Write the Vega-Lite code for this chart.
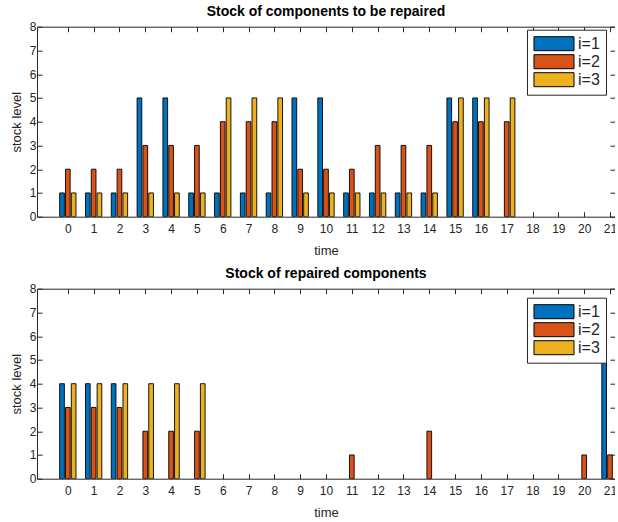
{
  "$schema": "https://vega.github.io/schema/vega-lite/v6.json",
  "padding": {"left": 9, "top": 3.7, "right": -3, "bottom": 0},
  "datasets": {
    "top": [
      {"t": 0, "i": "i=1", "v": 1}, {"t": 0, "i": "i=2", "v": 2}, {"t": 0, "i": "i=3", "v": 1},
      {"t": 1, "i": "i=1", "v": 1}, {"t": 1, "i": "i=2", "v": 2}, {"t": 1, "i": "i=3", "v": 1},
      {"t": 2, "i": "i=1", "v": 1}, {"t": 2, "i": "i=2", "v": 2}, {"t": 2, "i": "i=3", "v": 1},
      {"t": 3, "i": "i=1", "v": 5}, {"t": 3, "i": "i=2", "v": 3}, {"t": 3, "i": "i=3", "v": 1},
      {"t": 4, "i": "i=1", "v": 5}, {"t": 4, "i": "i=2", "v": 3}, {"t": 4, "i": "i=3", "v": 1},
      {"t": 5, "i": "i=1", "v": 1}, {"t": 5, "i": "i=2", "v": 3}, {"t": 5, "i": "i=3", "v": 1},
      {"t": 6, "i": "i=1", "v": 1}, {"t": 6, "i": "i=2", "v": 4}, {"t": 6, "i": "i=3", "v": 5},
      {"t": 7, "i": "i=1", "v": 1}, {"t": 7, "i": "i=2", "v": 4}, {"t": 7, "i": "i=3", "v": 5},
      {"t": 8, "i": "i=1", "v": 1}, {"t": 8, "i": "i=2", "v": 4}, {"t": 8, "i": "i=3", "v": 5},
      {"t": 9, "i": "i=1", "v": 5}, {"t": 9, "i": "i=2", "v": 2}, {"t": 9, "i": "i=3", "v": 1},
      {"t": 10, "i": "i=1", "v": 5}, {"t": 10, "i": "i=2", "v": 2}, {"t": 10, "i": "i=3", "v": 1},
      {"t": 11, "i": "i=1", "v": 1}, {"t": 11, "i": "i=2", "v": 2}, {"t": 11, "i": "i=3", "v": 1},
      {"t": 12, "i": "i=1", "v": 1}, {"t": 12, "i": "i=2", "v": 3}, {"t": 12, "i": "i=3", "v": 1},
      {"t": 13, "i": "i=1", "v": 1}, {"t": 13, "i": "i=2", "v": 3}, {"t": 13, "i": "i=3", "v": 1},
      {"t": 14, "i": "i=1", "v": 1}, {"t": 14, "i": "i=2", "v": 3}, {"t": 14, "i": "i=3", "v": 1},
      {"t": 15, "i": "i=1", "v": 5}, {"t": 15, "i": "i=2", "v": 4}, {"t": 15, "i": "i=3", "v": 5},
      {"t": 16, "i": "i=1", "v": 5}, {"t": 16, "i": "i=2", "v": 4}, {"t": 16, "i": "i=3", "v": 5},
      {"t": 17, "i": "i=2", "v": 4}, {"t": 17, "i": "i=3", "v": 5}
    ],
    "bottom": [
      {"t": 0, "i": "i=1", "v": 4}, {"t": 0, "i": "i=2", "v": 3}, {"t": 0, "i": "i=3", "v": 4},
      {"t": 1, "i": "i=1", "v": 4}, {"t": 1, "i": "i=2", "v": 3}, {"t": 1, "i": "i=3", "v": 4},
      {"t": 2, "i": "i=1", "v": 4}, {"t": 2, "i": "i=2", "v": 3}, {"t": 2, "i": "i=3", "v": 4},
      {"t": 3, "i": "i=2", "v": 2}, {"t": 3, "i": "i=3", "v": 4},
      {"t": 4, "i": "i=2", "v": 2}, {"t": 4, "i": "i=3", "v": 4},
      {"t": 5, "i": "i=2", "v": 2}, {"t": 5, "i": "i=3", "v": 4},
      {"t": 11, "i": "i=2", "v": 1},
      {"t": 14, "i": "i=2", "v": 2},
      {"t": 20, "i": "i=2", "v": 1},
      {"t": 21, "i": "i=1", "v": 5}, {"t": 21, "i": "i=2", "v": 1}
    ]
  },
  "vconcat": [
    {
      "data": {"name": "top"},
      "width": 578,
      "height": 190,
      "title": {"text": "Stock of components to be repaired"},
      "layer": [
        {
          "transform": [{"filter": "datum.i == 'i=1'"}],
          "mark": {"type": "bar", "width": 4.7, "xOffset": -5.83, "stroke": "black", "strokeWidth": 0.9, "clip": true},
          "encoding": {
            "x": {"field": "t", "type": "quantitative", "scale": {"domain": [-1, 21], "nice": false, "zero": false}, "axis": {"orient": "bottom", "title": "time", "values": [0,1,2,3,4,5,6,7,8,9,10,11,12,13,14,15,16,17,18,19,20,21]}},
            "y": {"field": "v", "type": "quantitative", "scale": {"domain": [0, 8], "nice": false}, "axis": {"orient": "left", "title": "stock level", "values": [0,1,2,3,4,5,6,7,8]}},
            "color": {"field": "i", "type": "nominal", "scale": {"domain": ["i=1", "i=2", "i=3"], "range": ["#0072BD", "#D95319", "#EDB120"]}, "legend": {"orient": "none", "legendX": 490, "legendY": 3}}
          }
        },
        {
          "transform": [{"filter": "datum.i == 'i=2'"}],
          "mark": {"type": "bar", "width": 4.7, "xOffset": 0, "stroke": "black", "strokeWidth": 0.9, "clip": true},
          "encoding": {
            "x": {"field": "t", "type": "quantitative", "scale": {"domain": [-1, 21], "nice": false, "zero": false}, "axis": null},
            "y": {"field": "v", "type": "quantitative", "scale": {"domain": [0, 8], "nice": false}, "axis": null},
            "color": {"field": "i", "type": "nominal"}
          }
        },
        {
          "transform": [{"filter": "datum.i == 'i=3'"}],
          "mark": {"type": "bar", "width": 4.7, "xOffset": 5.83, "stroke": "black", "strokeWidth": 0.9, "clip": true},
          "encoding": {
            "x": {"field": "t", "type": "quantitative", "scale": {"domain": [-1, 21], "nice": false, "zero": false}, "axis": null},
            "y": {"field": "v", "type": "quantitative", "scale": {"domain": [0, 8], "nice": false}, "axis": null},
            "color": {"field": "i", "type": "nominal"}
          }
        },
        {
          "mark": {"type": "point", "opacity": 0, "size": 1, "clip": true},
          "encoding": {
            "x": {"field": "t", "type": "quantitative", "scale": {"domain": [-1, 21], "nice": false, "zero": false}, "axis": {"orient": "top", "labels": false, "title": null, "minExtent": 0, "maxExtent": 0, "values": [0,1,2,3,4,5,6,7,8,9,10,11,12,13,14,15,16,17,18,19,20,21]}},
            "y": {"field": "v", "type": "quantitative", "scale": {"domain": [0, 8], "nice": false}, "axis": {"orient": "right", "labels": false, "title": null, "minExtent": 0, "maxExtent": 0, "values": [0,1,2,3,4,5,6,7,8]}}
          }
        }
      ],
      "resolve": {"axis": {"x": "independent", "y": "independent"}}
    },
    {
      "data": {"name": "bottom"},
      "width": 578,
      "height": 190,
      "title": {"text": "Stock of repaired components"},
      "layer": [
        {
          "transform": [{"filter": "datum.i == 'i=1'"}],
          "mark": {"type": "bar", "width": 4.7, "xOffset": -5.83, "stroke": "black", "strokeWidth": 0.9, "clip": true},
          "encoding": {
            "x": {"field": "t", "type": "quantitative", "scale": {"domain": [-1, 21], "nice": false, "zero": false}, "axis": {"orient": "bottom", "title": "time", "values": [0,1,2,3,4,5,6,7,8,9,10,11,12,13,14,15,16,17,18,19,20,21]}},
            "y": {"field": "v", "type": "quantitative", "scale": {"domain": [0, 8], "nice": false}, "axis": {"orient": "left", "title": "stock level", "values": [0,1,2,3,4,5,6,7,8]}},
            "color": {"field": "i", "type": "nominal", "scale": {"domain": ["i=1", "i=2", "i=3"], "range": ["#0072BD", "#D95319", "#EDB120"]}, "legend": {"orient": "none", "legendX": 490, "legendY": 9}}
          }
        },
        {
          "transform": [{"filter": "datum.i == 'i=2'"}],
          "mark": {"type": "bar", "width": 4.7, "xOffset": 0, "stroke": "black", "strokeWidth": 0.9, "clip": true},
          "encoding": {
            "x": {"field": "t", "type": "quantitative", "scale": {"domain": [-1, 21], "nice": false, "zero": false}, "axis": null},
            "y": {"field": "v", "type": "quantitative", "scale": {"domain": [0, 8], "nice": false}, "axis": null},
            "color": {"field": "i", "type": "nominal"}
          }
        },
        {
          "transform": [{"filter": "datum.i == 'i=3'"}],
          "mark": {"type": "bar", "width": 4.7, "xOffset": 5.83, "stroke": "black", "strokeWidth": 0.9, "clip": true},
          "encoding": {
            "x": {"field": "t", "type": "quantitative", "scale": {"domain": [-1, 21], "nice": false, "zero": false}, "axis": null},
            "y": {"field": "v", "type": "quantitative", "scale": {"domain": [0, 8], "nice": false}, "axis": null},
            "color": {"field": "i", "type": "nominal"}
          }
        },
        {
          "mark": {"type": "point", "opacity": 0, "size": 1, "clip": true},
          "encoding": {
            "x": {"field": "t", "type": "quantitative", "scale": {"domain": [-1, 21], "nice": false, "zero": false}, "axis": {"orient": "top", "labels": false, "title": null, "minExtent": 0, "maxExtent": 0, "values": [0,1,2,3,4,5,6,7,8,9,10,11,12,13,14,15,16,17,18,19,20,21]}},
            "y": {"field": "v", "type": "quantitative", "scale": {"domain": [0, 8], "nice": false}, "axis": {"orient": "right", "labels": false, "title": null, "minExtent": 0, "maxExtent": 0, "values": [0,1,2,3,4,5,6,7,8]}}
          }
        }
      ],
      "resolve": {"axis": {"x": "independent", "y": "independent"}}
    }
  ],
  "spacing": 7,
  "resolve": {"scale": {"color": "independent"}, "legend": {"color": "independent"}},
  "config": {
    "font": "Liberation Sans",
    "view": {"stroke": "#262626", "strokeWidth": 1},
    "title": {"fontSize": 14, "fontWeight": "bold", "color": "black", "offset": 2, "font": "Liberation Sans"},
    "axis": {
      "grid": false,
      "domain": false,
      "tickColor": "#262626",
      "tickSize": -5,
      "labelColor": "#262626",
      "titleColor": "#262626",
      "labelFontSize": 12,
      "titleFontSize": 13,
      "titleFontWeight": "normal",
      "labelPadding": 6,
      "labelAngle": 0
    },
    "axisX": {"labelPadding": 12, "titlePadding": 10},
    "axisY": {"titlePadding": 6},
    "legend": {
      "symbolType": "M-2.86,-1H2.86V1H-2.86Z",
      "symbolSize": 196,
      "symbolOffset": 13,
      "symbolStrokeColor": "black",
      "symbolStrokeWidth": 1,
      "symbolOpacity": 1,
      "labelFontSize": 16,
      "labelColor": "#262626",
      "labelOffset": 16,
      "rowPadding": 0,
      "padding": 6,
      "strokeColor": "#262626",
      "fillColor": "white",
      "title": null
    }
  }
}
